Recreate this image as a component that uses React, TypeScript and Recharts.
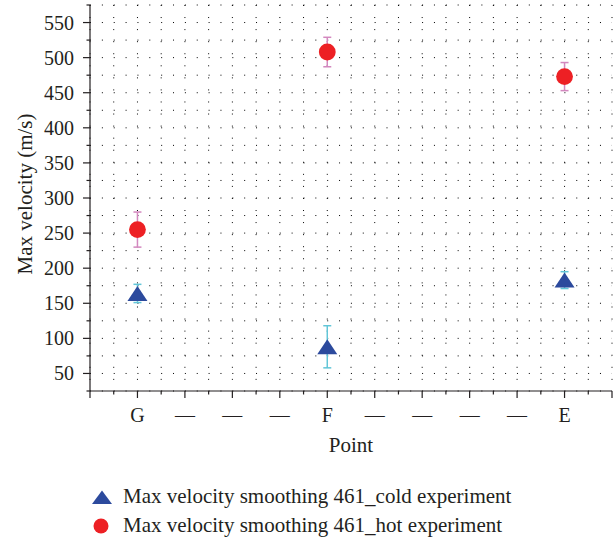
import React from 'react';
import { ScatterChart, Scatter, XAxis, YAxis, CartesianGrid, ErrorBar, Legend } from 'recharts';

// category positions along the "Point" axis (1..10); only G, F, E carry measurements
const pointLabels = ['G', '—', '—', '—', 'F', '—', '—', '—', '—', 'E'];
const measuredX = [1, 5, 10];

const coldValues = [164, 88, 183];
const coldErrors = [13, 30, 12];
const hotValues = [255, 508, 473];
const hotErrors = [25, 21, 20];

const xTicks = [0, 0.5, 1, 1.5, 2, 2.5, 3, 3.5, 4, 4.5, 5, 5.5, 6, 6.5, 7, 7.5, 8, 8.5, 9, 9.5, 10, 10.5, 11];
const yTicks = [25, 50, 75, 100, 125, 150, 175, 200, 225, 250, 275, 300, 325, 350, 375, 400, 425, 450, 475, 500, 525, 550, 575];

const COLD = '#2C4A9D';
const HOT = '#ED2024';
const COLD_ERR = '#62C6D8';
const HOT_ERR = '#D388BF';
const INK = '#231F20';
const FONT = "'Liberation Serif', 'Times New Roman', serif";

const coldData = measuredX.map((x, i) => ({ x, y: coldValues[i], err: coldErrors[i] }));
const hotData = measuredX.map((x, i) => ({ x, y: hotValues[i], err: hotErrors[i] }));

const series = [
  { name: 'Max velocity smoothing 461_cold experiment', kind: 'triangle' },
  { name: 'Max velocity smoothing 461_hot experiment', kind: 'circle' },
];

const Triangle = ({ cx, cy }: any) => (
  <polygon points={`${cx},${cy - 7.5} ${cx - 10},${cy + 7.5} ${cx + 10},${cy + 7.5}`} fill={COLD} />
);

const Dot = ({ cx, cy }: any) => <circle cx={cx} cy={cy} r={8.4} fill={HOT} />;

const XTick = ({ x, y, payload }: any) => {
  const v = payload.value;
  const major = Number.isInteger(v);
  const label = major && v >= 1 && v <= 10 ? pointLabels[v - 1] : '';
  return (
    <g>
      <line x1={x} y1={y} x2={x} y2={y + (major ? 7 : 3.5)} stroke={INK} strokeWidth={1.2} />
      {label && (
        <text x={x} y={y + 31} textAnchor="middle" fill={INK} fontSize={20} fontFamily={FONT}>
          {label}
        </text>
      )}
    </g>
  );
};

const YTick = ({ x, y, payload }: any) => {
  const v = payload.value;
  const major = v % 50 === 0;
  return (
    <g>
      <line x1={x - (major ? 7 : 3.5)} y1={y} x2={x} y2={y} stroke={INK} strokeWidth={1.2} />
      {major && (
        <text x={x - 16} y={y} dy="0.35em" textAnchor="end" fill={INK} fontSize={20} fontFamily={FONT}>
          {v}
        </text>
      )}
    </g>
  );
};

const LegendBox = () => (
  <div style={{ fontFamily: FONT, fontSize: 21, color: INK }}>
    {series.map((s) => (
      <div key={s.name} style={{ display: 'flex', alignItems: 'center', height: 29, whiteSpace: 'nowrap' }}>
        <svg width={24} height={20}>
          {s.kind === 'triangle' ? (
            <polygon points="12,3.5 2,17 22,17" fill={COLD} />
          ) : (
            <circle cx={11} cy={10} r={7.5} fill={HOT} />
          )}
        </svg>
        <span style={{ marginLeft: 9 }}>{s.name}</span>
      </div>
    ))}
  </div>
);

export default function App() {
  return (
    <div style={{ position: 'absolute', left: 0, top: 0, background: '#fff' }}>
      <ScatterChart width={616} height={537} margin={{ top: 5, right: 4, left: 0, bottom: 0 }}>
        <CartesianGrid horizontal={false} stroke="#000" strokeDasharray="1 11.06" />
        <CartesianGrid vertical={false} stroke="#000" strokeDasharray="1 10.86" />
        <XAxis
          type="number"
          dataKey="x"
          domain={[0, 11]}
          ticks={xTicks}
          interval={0}
          height={146}
          tickSize={0}
          tickMargin={0}
          tickLine={false}
          axisLine={{ stroke: INK, strokeWidth: 1.2 }}
          tick={<XTick />}
          label={({ viewBox }: any) => (
            <text
              x={viewBox.x + viewBox.width / 2}
              y={viewBox.y + 61}
              textAnchor="middle"
              fill={INK}
              fontSize={21}
              fontFamily={FONT}
            >
              Point
            </text>
          )}
        />
        <YAxis
          type="number"
          dataKey="y"
          domain={[25, 575]}
          ticks={yTicks}
          interval={0}
          width={90}
          tickSize={0}
          tickMargin={0}
          tickLine={false}
          axisLine={{ stroke: INK, strokeWidth: 1.2 }}
          tick={<YTick />}
          label={({ viewBox }: any) => {
            const cx = viewBox.x + 32;
            const cy = viewBox.y + viewBox.height / 2 - 4;
            return (
              <text
                x={cx}
                y={cy}
                transform={`rotate(-90 ${cx} ${cy})`}
                textAnchor="middle"
                fill={INK}
                fontSize={21}
                fontFamily={FONT}
              >
                Max velocity (m/s)
              </text>
            );
          }}
        />
        <Scatter name={series[0].name} data={coldData} shape={<Triangle />} isAnimationActive={false}>
          <ErrorBar dataKey="err" direction="y" width={4} stroke={COLD_ERR} strokeWidth={1.5} />
        </Scatter>
        <Scatter name={series[1].name} data={hotData} shape={<Dot />} isAnimationActive={false}>
          <ErrorBar dataKey="err" direction="y" width={4} stroke={HOT_ERR} strokeWidth={1.5} />
        </Scatter>
        <Legend
          layout="vertical"
          align="center"
          verticalAlign="middle"
          content={<LegendBox />}
          wrapperStyle={{ left: 90, top: 482, width: 'auto' }}
        />
      </ScatterChart>
    </div>
  );
}
